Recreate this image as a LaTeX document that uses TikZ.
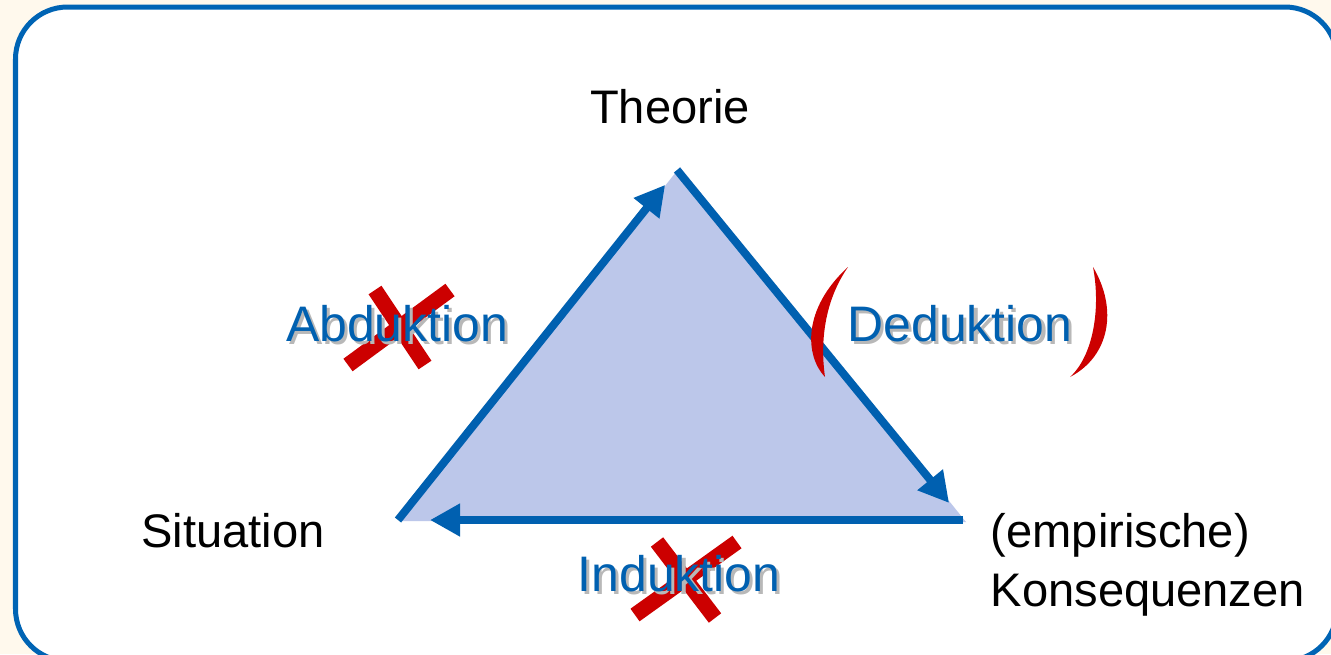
\documentclass[tikz,border=0pt]{standalone}
\usepackage{fontspec}
\setmainfont{Liberation Sans}
\usetikzlibrary{arrows.meta}

\definecolor{rahmenblau}{RGB}{0,100,180}
\definecolor{pfeilblau}{RGB}{0,96,176}
\definecolor{flaeche}{RGB}{188,199,234}
\definecolor{kreuzrot}{RGB}{204,0,0}
\definecolor{hintergrund}{RGB}{255,249,237}

% Schrift mit leichtem grauen Schatten
\newcommand{\schatten}[1]{\makebox[0pt][l]{\hspace{0.9pt}\raisebox{-0.9pt}{\textcolor{black!28}{#1}}}#1}

\begin{document}
\begin{tikzpicture}[
  every node/.style={inner sep=0pt},
  ecke/.style={font=\fontsize{13.4pt}{16pt}\selectfont, text=black, anchor=base},
  schluss/.style={font=\fontsize{14.2pt}{17pt}\selectfont, text=pfeilblau, anchor=base},
  kante/.style={line width=0.08cm, draw=pfeilblau, -{Triangle[length=0.30cm, width=0.31cm]}},
  kreuz/.style={line width=0.155cm, draw=kreuzrot}
]

  % Hintergrund und Rahmen
  \useasboundingbox (0,0) rectangle (13.31,6.54);
  \clip (0,0) rectangle (13.31,6.54);
  \fill[hintergrund] (0,0) rectangle (13.31,6.54);
  \draw[line width=0.05cm, draw=rahmenblau, fill=white, rounded corners=0.52cm] (0.155,6.47) rectangle (13.37,-0.07);

  % Ecken des Dreiecks
  \coordinate (top) at (6.77,4.84);
  \coordinate (sit) at (3.98,1.34);
  \coordinate (kon) at (9.63,1.34);

  \fill[flaeche] (6.80,4.87) -- (3.99,1.33) -- (9.66,1.32) -- cycle;

  % Pfeile
  \draw[kante, shorten >=0.19cm] (sit) -- (top);
  \draw[kante, shorten >=0.22cm] (top) -- (kon);
  \draw[kante, shorten >=0.32cm] (kon) -- (sit);

  % Beschriftung der Ecken
  \node[ecke] (theorie) at (6.70,5.31) {Theorie};
  \node[ecke] (situation) at (2.33,1.07) {Situation};
  \node[ecke, anchor=base west] (empirisch) at (9.90,1.07) {(empirische)};
  \node[ecke, anchor=base west] (konsequenz) at (9.90,0.48) {Konsequenzen};

  % Kreuze unter den Schlussweisen
  \draw[kreuz] (3.48,2.89) -- (4.50,3.64);
  \draw[kreuz] (3.75,3.64) -- (4.25,2.89);
  \draw[kreuz] (6.35,0.39) -- (7.37,1.12);
  \draw[kreuz] (6.57,1.12) -- (7.15,0.36);

  % Klammern um Deduktion
  \fill[kreuzrot] (8.48,3.87) .. controls (8.02,3.45) and (8.05,2.98) .. (8.25,2.77)
    .. controls (8.22,2.98) and (8.19,3.45) .. (8.48,3.87);
  \fill[kreuzrot] (10.93,3.87) .. controls (11.18,3.45) and (11.10,2.98) .. (10.70,2.77)
    .. controls (10.93,2.98) and (11.01,3.45) .. (10.93,3.87);

  % Schlussweisen
  \node[schluss] (abduktion) at (3.97,3.13) {\schatten{Abduktion}};
  \node[schluss] (deduktion) at (9.60,3.13) {\schatten{Deduktion}};
  \node[schluss] (induktion) at (6.79,0.63) {\schatten{Induktion}};

\end{tikzpicture}
\end{document}
